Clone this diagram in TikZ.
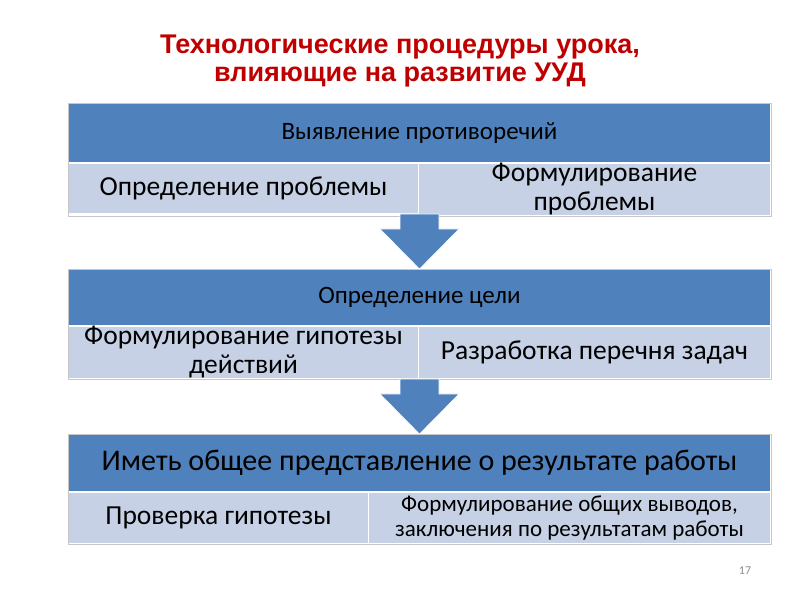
\documentclass[tikz,border=0pt]{standalone}
\usepackage{fontspec}
\setmainfont{Carlito}
\newfontfamily\titlefont{Liberation Sans}
\usepackage{tikz}
\usetikzlibrary{positioning}
\definecolor{headblue}{HTML}{4F81BD}
\definecolor{cellblue}{HTML}{C6D1E5}
\definecolor{titlered}{HTML}{C00000}
\definecolor{pagegray}{HTML}{8C8C8C}

\begin{document}
\begin{tikzpicture}[x=1pt, y=1pt,
    head/.style={fill=headblue, draw=white, line width=1pt, inner sep=0pt,
                 minimum width=702pt, font=\fontsize{25}{29}\selectfont},
    cell/.style={fill=cellblue, draw=white, line width=1pt, inner sep=0pt,
                 align=center, font=\fontsize{27.5}{29}\selectfont},
    blockedge/.style={draw=black!22, line width=0.7pt},
    downarrow/.style={fill=headblue, draw=white, line width=0.6pt}]
  \useasboundingbox[fill=white] (0,0) rectangle (800,600);

  \node[font=\titlefont\bfseries\fontsize{27}{28}\selectfont, text=titlered, align=center]
    (title) at (400,539) {Технологические процедуры урока,\\влияющие на развитие УУД};

  % block 1
  \node[head, anchor=north west, minimum height=59pt] (contr) at (68,497) {Выявление противоречий};
  \node[cell, below right=0pt and 0pt of contr.south west, minimum width=350pt, minimum height=50pt]
    (contrL) {Определение проблемы};
  \node[cell, below left=0pt and 0pt of contr.south east, minimum width=352pt, minimum height=50pt]
    (contrR) {Формулирование\\проблемы};

  % block 2
  \node[head, below right=55pt and 0pt of contrL.south west, minimum height=56pt] (goal) {Определение цели};
  \node[cell, below right=0pt and 0pt of goal.south west, minimum width=350pt, minimum height=52pt]
    (goalL) {Формулирование гипотезы\\действий};
  \node[cell, below left=0pt and 0pt of goal.south east, minimum width=352pt, minimum height=52pt]
    (goalR) {Разработка перечня задач};

  % block 3
  \node[head, below right=55pt and 0pt of goalL.south west, minimum height=57pt,
        font=\fontsize{30}{34}\selectfont] (result) {Иметь общее представление о результате работы};
  \node[cell, below right=0pt and 0pt of result.south west, minimum width=300pt, minimum height=51pt]
    (resultL) {Проверка гипотезы};
  \node[cell, below left=0pt and 0pt of result.south east, minimum width=402pt, minimum height=51pt,
        font=\fontsize{23}{25}\selectfont]
    (resultR) {Формулирование общих выводов,\\заключения по результатам работы};

  % thin grey edge round each block
  \foreach \top/\low in {contr/contrR, goal/goalR, result/resultR}
    \draw[blockedge] (\top.north west) rectangle (\low.south east);

  % arrows between the blocks
  \foreach \from/\to in {contrL/goal, goalL/result}{
    \coordinate (base) at (\to.north |- \from.south);
    \filldraw[downarrow] ([xshift=-19.5pt]base) -- ++(0,-15) -- ++(-20,0) -- (\to.north)
      -- ([xshift=39.5pt,yshift=-15pt]base) -- ++(-20,0) -- ([xshift=19.5pt]base) -- cycle;
  }

  \node[text=pagegray, font=\fontsize{12}{14}\selectfont] (pagenum) at (745,29) {17};
\end{tikzpicture}
\end{document}
